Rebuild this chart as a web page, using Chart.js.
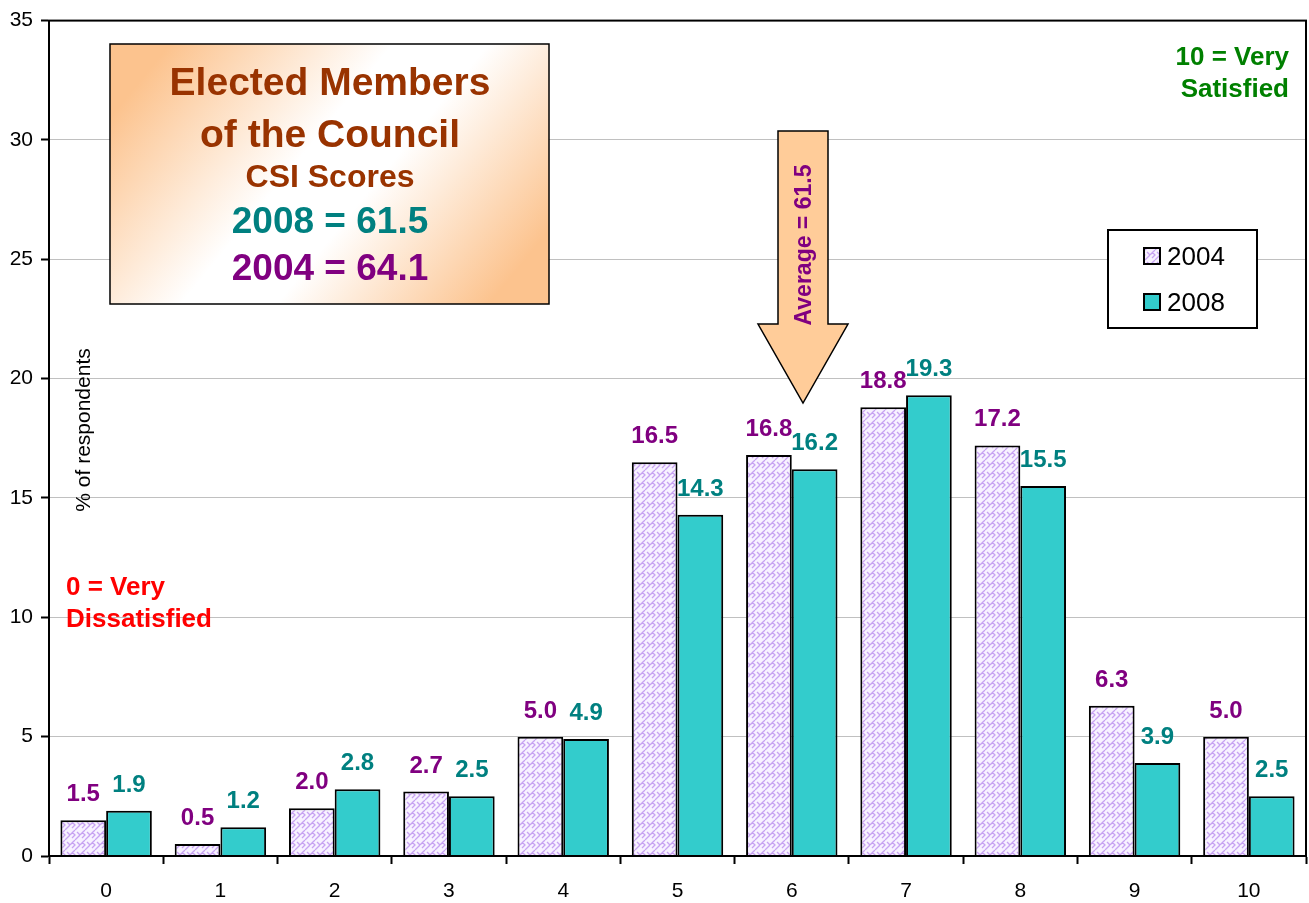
<!DOCTYPE html>
<html>
<head>
<meta charset="utf-8">
<script src="https://cdn.jsdelivr.net/npm/chart.js@4"></script>
<style>
  html, body { margin: 0; padding: 0; background: #fff; }
  #wrap { width: 1309px; height: 903px; }
</style>
</head>
<body>
<div id="wrap"><canvas id="myChart" width="1309" height="903"></canvas></div>
<script>
// 데이터
const categories = ['0', '1', '2', '3', '4', '5', '6', '7', '8', '9', '10'];
const values2004 = [1.5, 0.5, 2.0, 2.7, 5.0, 16.5, 16.8, 18.8, 17.2, 6.3, 5.0];
const values2008 = [1.9, 1.2, 2.8, 2.5, 4.9, 14.3, 16.2, 19.3, 15.5, 3.9, 2.5];
const seriesNames = ['2004', '2008'];
const yTicks = [0, 5, 10, 15, 20, 25, 30, 35];
const titleLines = ['Elected Members', 'of the Council', 'CSI Scores', '2008 = 61.5', '2004 = 64.1'];

const FONT = '"Liberation Sans", Arial, sans-serif';

// 2004 막대에 쓸 무늬
function makePattern() {
    let c = document.createElement('canvas');
    c.width = 10; c.height = 10;
    let g = c.getContext('2d');
    g.fillStyle = '#f8f2ff';
    g.fillRect(0, 0, 10, 10);
    g.strokeStyle = '#c7a2f2';
    g.lineWidth = 1.3;
    g.beginPath();
    g.moveTo(0, 5); g.lineTo(5, 0);
    g.moveTo(5, 10); g.lineTo(10, 5);
    g.moveTo(2, 2); g.lineTo(5, 5); g.lineTo(2, 8);
    g.moveTo(7, 2); g.lineTo(10, 5);
    g.stroke();
    return g.createPattern(c, 'repeat');
}
const hatch = makePattern();

// 그림 위에 덧그리는 것들 (라벨, 제목 상자, 화살표, 범례)
const extras = {
    id: 'extras',
    beforeDraw(chart) {
        let ctx = chart.ctx;
        ctx.save();
        ctx.fillStyle = '#fff';
        ctx.fillRect(0, 0, chart.width, chart.height);
        ctx.restore();
    },
    afterDatasetsDraw(chart) {
        let ctx = chart.ctx;
        let a = chart.chartArea;
        ctx.save();

        // 막대 위 값
        ctx.font = 'bold 24px ' + FONT;
        ctx.textAlign = 'center';
        ctx.textBaseline = 'alphabetic';
        const colors = ['#800080', '#008080'];
        chart.data.datasets.forEach((ds, i) => {
            chart.getDatasetMeta(i).data.forEach((bar, j) => {
                ctx.fillStyle = colors[i];
                ctx.fillText(ds.data[j].toFixed(1), bar.x, bar.y - 19);
            });
        });

        // 테두리
        ctx.strokeStyle = '#000';
        ctx.lineWidth = 2;
        ctx.strokeRect(a.left, a.top, a.right - a.left, a.bottom - a.top);

        // 제목 상자
        let bx = 110, by = 44, bw = 439, bh = 260;
        let grad = ctx.createLinearGradient(bx + 60, by, bx + bw - 60, by + bh);
        grad.addColorStop(0, '#fcc38e');
        grad.addColorStop(0.42, '#ffffff');
        grad.addColorStop(0.6, '#ffffff');
        grad.addColorStop(1, '#fcc38e');
        ctx.fillStyle = grad;
        ctx.fillRect(bx, by, bw, bh);
        ctx.lineWidth = 1.5;
        ctx.strokeRect(bx, by, bw, bh);
        const tColors = ['#993300', '#993300', '#993300', '#008080', '#800080'];
        const tSizes = [39, 39, 32, 37, 37];
        const tY = [95, 147, 187, 233, 280];
        titleLines.forEach((t, i) => {
            ctx.fillStyle = tColors[i];
            ctx.font = 'bold ' + tSizes[i] + 'px ' + FONT;
            ctx.fillText(t, 330, tY[i]);
        });

        // 양 끝 설명
        ctx.font = 'bold 26px ' + FONT;
        ctx.fillStyle = '#008000';
        ctx.textAlign = 'right';
        ctx.fillText('10 = Very', 1289, 65);
        ctx.fillText('Satisfied', 1289, 97);
        ctx.fillStyle = '#ff0000';
        ctx.textAlign = 'left';
        ctx.fillText('0 = Very', 66, 595);
        ctx.fillText('Dissatisfied', 66, 627);

        // 세로축 제목
        ctx.save();
        ctx.translate(90, 430);
        ctx.rotate(-Math.PI / 2);
        ctx.textAlign = 'center';
        ctx.fillStyle = '#000';
        ctx.font = '21px ' + FONT;
        ctx.fillText('% of respondents', 0, 0);
        ctx.restore();

        // 평균 화살표
        ctx.beginPath();
        ctx.moveTo(778, 131);
        ctx.lineTo(828, 131);
        ctx.lineTo(828, 324);
        ctx.lineTo(848, 324);
        ctx.lineTo(803, 403);
        ctx.lineTo(758, 324);
        ctx.lineTo(778, 324);
        ctx.closePath();
        ctx.fillStyle = '#ffcc99';
        ctx.fill();
        ctx.lineWidth = 1.5;
        ctx.strokeStyle = '#000';
        ctx.stroke();
        ctx.save();
        ctx.translate(811, 245);
        ctx.rotate(-Math.PI / 2);
        ctx.textAlign = 'center';
        ctx.fillStyle = '#800080';
        ctx.font = 'bold 23px ' + FONT;
        ctx.fillText('Average = 61.5', 0, 0);
        ctx.restore();

        // 범례
        ctx.lineWidth = 2;
        ctx.fillStyle = '#fff';
        ctx.fillRect(1108, 230, 149, 98);
        ctx.strokeRect(1108, 230, 149, 98);
        const fills = [hatch, '#33cccc'];
        const sy = [248, 294];
        const ty = [265, 311];
        seriesNames.forEach((n, i) => {
            ctx.fillStyle = fills[i];
            ctx.fillRect(1144, sy[i], 16, 16);
            ctx.lineWidth = 2;
            ctx.strokeRect(1144, sy[i], 16, 16);
            ctx.fillStyle = '#000';
            ctx.textAlign = 'left';
            ctx.font = '26px ' + FONT;
            ctx.fillText(n, 1167, ty[i]);
        });

        ctx.restore();
    }
};

let ctx = document.getElementById('myChart');

let config = {
    type: 'bar',
    data: {
        labels: categories,
        datasets: [
            {
                label: seriesNames[0],
                data: values2004,
                backgroundColor: hatch,
                borderColor: '#000',
                borderWidth: 2,
                barPercentage: 1,
                categoryPercentage: 0.8
            },
            {
                label: seriesNames[1],
                data: values2008,
                backgroundColor: '#33cccc',
                borderColor: '#000',
                borderWidth: 2,
                barPercentage: 1,
                categoryPercentage: 0.8
            }
        ]
    },
    options: {
        responsive: false,
        animation: false,
        layout: { padding: { top: 20, right: 3, left: 0, bottom: 0 } },
        plugins: {
            legend: { display: false },
            tooltip: { enabled: false }
        },
        scales: {
            x: {
                grid: {
                    drawOnChartArea: false,
                    tickLength: 8,
                    tickColor: '#000',
                    tickWidth: 2
                },
                border: { color: '#000', width: 2 },
                ticks: { color: '#000', font: { size: 21, family: FONT }, padding: 15 },
                afterFit(scale) { scale.height = 47; }
            },
            y: {
                min: 0,
                max: 35,
                afterBuildTicks(scale) { scale.ticks = yTicks.map(v => ({ value: v })); },
                grid: {
                    color: (c) => c.tick && c.tick.value === 35 ? '#000' : '#c0c0c0',
                    tickColor: '#000',
                    tickLength: 8,
                    tickWidth: 2
                },
                border: { color: '#000', width: 2 },
                ticks: { color: '#000', font: { size: 21, family: FONT }, padding: 8 },
                afterFit(scale) { scale.width = 49; }
            }
        }
    },
    plugins: [extras]
};

let myChart = new Chart(ctx, config);
</script>
</body>
</html>
